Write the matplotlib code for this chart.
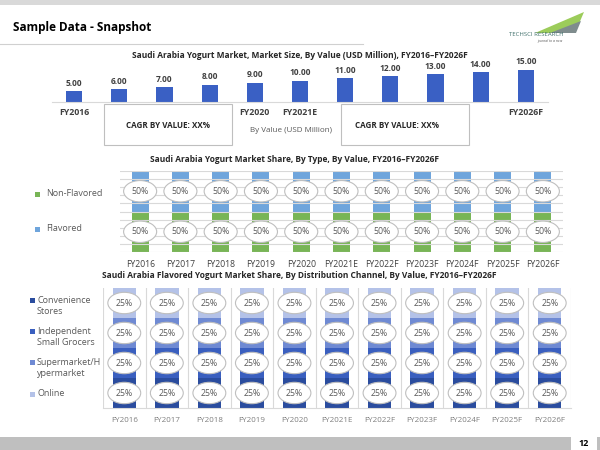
import matplotlib
matplotlib.use('Agg')
import matplotlib.pyplot as plt
from matplotlib.patches import Rectangle, Polygon

plt.rcParams['font.family'] = ['Open Sans', 'DejaVu Sans']

# data
years = ['FY2016', 'FY2017', 'FY2018', 'FY2019', 'FY2020', 'FY2021E',
         'FY2022F', 'FY2023F', 'FY2024F', 'FY2025F', 'FY2026F']
market_size = [5.00, 6.00, 7.00, 8.00, 9.00, 10.00, 11.00, 12.00, 13.00, 14.00, 15.00]
size_ticks = ['FY2016', '', '', '', 'FY2020', 'FY2021E', '', '', '', '', 'FY2026F']

flavored = [50, 50, 50, 50, 50, 50, 50, 50, 50, 50, 50]
non_flavored = [50, 50, 50, 50, 50, 50, 50, 50, 50, 50, 50]

convenience = [25, 25, 25, 25, 25, 25, 25, 25, 25, 25, 25]
independent = [25, 25, 25, 25, 25, 25, 25, 25, 25, 25, 25]
supermarket = [25, 25, 25, 25, 25, 25, 25, 25, 25, 25, 25]
online = [25, 25, 25, 25, 25, 25, 25, 25, 25, 25, 25]

W, H = 600, 450
fig = plt.figure(figsize=(6, 4.5), dpi=100)


def fx(x):
    return x / W


def fy(y):
    return 1 - y / H


def axes_px(left, top, width, height):
    return fig.add_axes([fx(left), fy(top + height), width / W, height / H])


def frect(x, y, w, h, **kw):
    fig.add_artist(Rectangle((fx(x), fy(y + h)), w / W, h / H,
                             transform=fig.transFigure, **kw))


def ftext(x, y, s, **kw):
    fig.text(fx(x), fy(y), s, **kw)


x = list(range(len(years)))
ell = dict(boxstyle='ellipse,pad=0.35', fc='white', ec='#bfbfbf', lw=0.8)

# slide decoration
frect(0, 0, 600, 5, color='#d9d9d9', lw=0)
ftext(13, 27, 'Sample Data - Snapshot', fontsize=8.5, fontweight='bold',
      color='black', va='center')
fig.add_artist(plt.Line2D([0, fx(363)], [fy(44), fy(44)], color='#d0d0d0', lw=0.8,
                          transform=fig.transFigure))
# logo
fig.add_artist(Polygon([(fx(535), fy(33)), (fx(584), fy(12)), (fx(575), fy(33))],
                       closed=True, color='#9ccc5a', lw=0, transform=fig.transFigure))
fig.add_artist(Polygon([(fx(550), fy(33)), (fx(581), fy(21)), (fx(576), fy(33))],
                       closed=True, color='#7f8c8d', lw=0, transform=fig.transFigure))
ftext(536, 35, 'TECHSCI RESEARCH', fontsize=4.3, color='#3f6f6a', ha='center', va='center')
ftext(550, 41, 'journal to a new', fontsize=2.5, color='#555555', ha='center',
      va='center', style='italic')
# footer
frect(0, 437, 571, 13, color='#bfbfbf', lw=0)
frect(597, 437, 3, 13, color='#bfbfbf', lw=0)
ftext(584, 443, '12', fontsize=6.5, fontweight='bold', ha='center', va='center')

# chart 1: market size
ax1 = axes_px(52, 58, 496, 44)
ax1.bar(x, market_size, width=0.36, color='#3a60c4', zorder=2)
for i, v in enumerate(market_size):
    ax1.text(i, v + 3.7, '%.2f' % v, ha='center', va='center', fontsize=6,
             fontweight='bold', color='#404040', clip_on=False)
ax1.set_xlim(-0.49, 10.49)
ax1.set_ylim(0, 20.5)
ax1.set_xticks(x)
ax1.set_xticklabels(size_ticks, fontsize=6.3, fontweight='bold', color='#404040')
ax1.tick_params(length=0, pad=4.3)
ax1.set_yticks([])
for s in ['top', 'left', 'right']:
    ax1.spines[s].set_visible(False)
ax1.spines['bottom'].set_color('#d9d9d9')
ax1.patch.set_alpha(0)
ftext(300, 55, 'Saudi Arabia Yogurt Market, Market Size, By Value (USD Million), FY2016\u2013FY2026F',
      fontsize=6, fontweight='bold', ha='center', va='center', color='#262626')

frect(104, 104, 128, 41, fc='white', ec='#bfbfbf', lw=0.8)
frect(341, 104, 128, 41, fc='white', ec='#bfbfbf', lw=0.8)
ftext(168, 126, 'CAGR BY VALUE: XX%', fontsize=5.8, fontweight='bold', ha='center',
      va='center', color='#262626')
ftext(397, 125, 'CAGR BY VALUE: XX%', fontsize=5.8, fontweight='bold', ha='center',
      va='center', color='#262626')
ftext(291, 130, 'By Value (USD Million)', fontsize=5.8, ha='center', va='center',
      color='#595959')

# chart 2: by type
ax2 = axes_px(120, 171, 443, 81)
ax2.bar(x, non_flavored, width=0.42, color='#78b556', zorder=2)
ax2.bar(x, flavored, width=0.42, bottom=non_flavored, color='#6fa5dc', zorder=2)
for i in x:
    ax2.text(i, non_flavored[i] / 2, '%d%%' % non_flavored[i], ha='center', va='center',
             fontsize=6.3, color='#595959', bbox=ell, zorder=4)
    ax2.text(i, non_flavored[i] + flavored[i] / 2, '%d%%' % flavored[i], ha='center',
             va='center', fontsize=6.3, color='#595959', bbox=ell, zorder=4)
ax2.set_xlim(-0.5, 10.5)
ax2.set_ylim(0, 100)
ax2.set_yticks(range(0, 101, 10))
ax2.yaxis.grid(True, color='#d9d9d9', lw=0.8, zorder=3)
ax2.set_axisbelow(False)
ax2.tick_params(axis='y', length=0, labelleft=False)
ax2.set_xticks(x)
ax2.set_xticklabels(years, fontsize=6.2, color='#404040')
ax2.tick_params(axis='x', length=0, pad=5.5)
for s in ax2.spines.values():
    s.set_visible(False)
ax2.patch.set_alpha(0)
ftext(295, 159, 'Saudi Arabia Yogurt Market Share, By Type, By Value, FY2016\u2013FY2026F',
      fontsize=6, fontweight='bold', ha='center', va='center', color='#262626')
frect(34.5, 191.5, 5, 5, color='#78b556', lw=0)
ftext(46, 194, 'Non-Flavored', fontsize=6.5, color='#595959', va='center')
frect(34.5, 226.5, 5, 5, color='#6fa5dc', lw=0)
ftext(46, 229, 'Flavored', fontsize=6.5, color='#595959', va='center')

# chart 3: by distribution channel
ax3 = axes_px(103, 288, 468, 120)
series3 = [convenience, independent, supermarket, online]
colors3 = ['#2a4c9e', '#3a5fbf', '#6f8ad3', '#b4c2e8']
bottom = [0] * len(years)
for vals, col in zip(series3, colors3):
    ax3.bar(x, vals, width=0.55, bottom=bottom, color=col, zorder=2)
    for i in x:
        ax3.text(i, bottom[i] + vals[i] / 2, '%d%%' % vals[i], ha='center', va='center',
                 fontsize=6.3, color='#595959', bbox=ell, zorder=4)
    bottom = [b + v for b, v in zip(bottom, vals)]
ax3.set_xlim(-0.5, 10.5)
ax3.set_ylim(0, 100)
for b in range(12):
    ax3.axvline(b - 0.5, color='#d9d9d9', lw=0.8, zorder=1)
ax3.set_yticks([])
ax3.set_xticks(x)
ax3.set_xticklabels(years, fontsize=5.8, color='#7f7f7f')
ax3.tick_params(axis='x', length=0, pad=6.5)
for s in ['top', 'left', 'right']:
    ax3.spines[s].set_visible(False)
ax3.spines['bottom'].set_color('#d9d9d9')
ax3.patch.set_alpha(0)
ftext(299, 276, 'Saudi Arabia Flavored Yogurt Market Share, By Distribution Channel, By Value, FY2016\u2013FY2026F',
      fontsize=6, fontweight='bold', ha='center', va='center', color='#262626')
legend3 = [('Convenience\nStores', 306, colors3[0]), ('Independent\nSmall Grocers', 337, colors3[1]),
           ('Supermarket/H\nypermarket', 368, colors3[2]), ('Online', 394, colors3[3])]
for lab, yy, col in legend3:
    first_y = yy - 6 if '\n' in lab else yy
    frect(29.5, first_y - 2.5, 5, 5, color=col, lw=0)
    ftext(37, yy, lab, fontsize=6.5, color='#595959', va='center', linespacing=1.35)

fig.savefig('out.png', dpi=100)
